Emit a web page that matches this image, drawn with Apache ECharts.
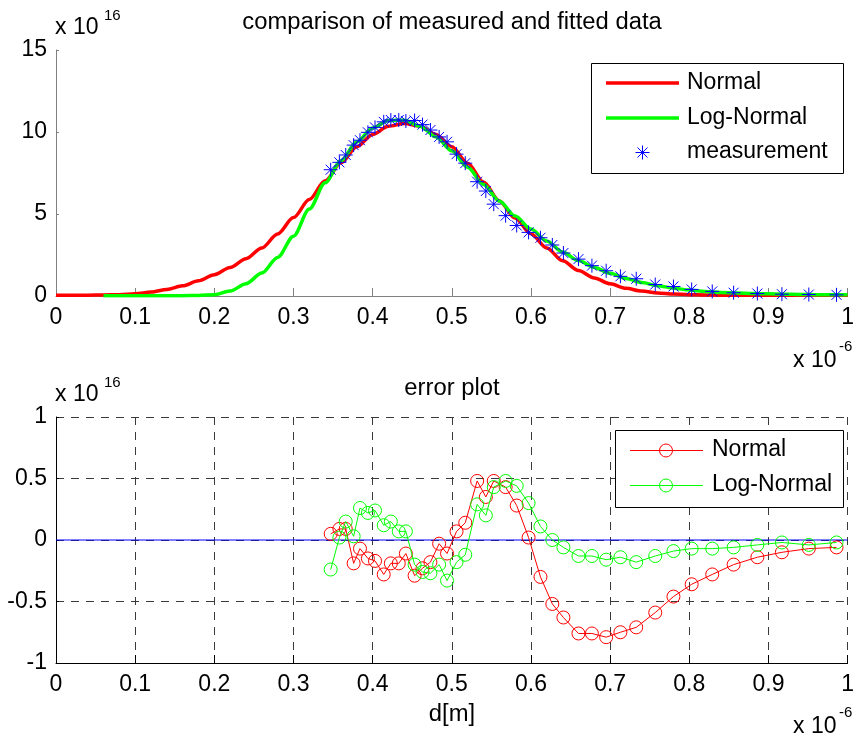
<!DOCTYPE html>
<html><head><meta charset="utf-8">
<script src="https://cdn.jsdelivr.net/npm/echarts@6/dist/echarts.min.js"></script>
<style>html,body{margin:0;padding:0;background:#fff}#c{width:857px;height:738px}</style>
</head><body><div id="c"></div>
<script>
// ---------- data (x in units of 1e-6 m, y in units of 1e16) ----------
const xTickLabels = ['0','0.1','0.2','0.3','0.4','0.5','0.6','0.7','0.8','0.9','1'];
const topYTickLabels = ['0','5','10','15'];
const bottomYTickLabels = ['-1','-0.5','0','0.5','1'];

const fitX = [0,0.02,0.04,0.06,0.08,0.10,0.12,0.14,0.16,0.18,0.20,0.22,0.24,0.26,0.28,0.30,0.32,0.34,0.36,0.38,0.40,
  0.42,0.44,0.46,0.48,0.50,0.52,0.54,0.56,0.58,0.60,0.62,0.64,0.66,0.68,0.70,0.72,0.74,0.76,0.78,0.80,
  0.82,0.84,0.86,0.88,0.90,0.92,0.94,0.96,0.98,1.00];
const normalFit = [0.05,0.05,0.05,0.06,0.08,0.14,0.24,0.40,0.62,0.93,1.30,1.74,2.27,2.93,3.78,4.78,5.88,7.02,8.12,9.10,9.85,
  10.35,10.52,10.35,9.85,9.10,8.10,6.95,5.80,4.75,3.80,2.93,2.15,1.55,1.10,0.74,0.47,0.30,0.19,0.12,0.08,
  0.06,0.05,0.05,0.04,0.04,0.04,0.04,0.04,0.04,0.04];
const logNormalFit = [null,null,null,0.02,0.02,0.02,0.02,0.02,0.02,0.03,0.08,0.30,0.75,1.40,2.35,3.65,5.30,6.90,8.25,9.40,10.25,
  10.70,10.72,10.35,9.70,8.85,7.85,6.80,5.80,4.88,4.08,3.35,2.68,2.16,1.74,1.38,1.07,0.82,0.63,0.48,0.36,
  0.28,0.22,0.18,0.15,0.13,0.11,0.09,0.08,0.07,0.07];

const measX = [0.347,0.358,0.366,0.376,0.384,0.394,0.403,0.414,0.423,0.433,0.442,0.453,0.463,0.473,0.484,0.494,
  0.506,0.517,0.532,0.543,0.553,0.568,0.582,0.597,0.612,0.627,0.641,0.660,0.677,0.695,0.713,0.733,
  0.757,0.780,0.803,0.829,0.856,0.886,0.917,0.951,0.986];
const measY = [7.7,8.15,8.6,9.2,9.5,9.98,10.28,10.62,10.73,10.73,10.67,10.7,10.45,10.12,9.7,9.4,
  8.65,8.1,6.97,6.4,5.6,4.9,4.3,3.88,3.55,3.11,2.62,2.25,1.85,1.54,1.2,1.05,
  0.7,0.58,0.4,0.28,0.2,0.15,0.11,0.09,0.07];
const errNormal = [0.05,0.09,0.09,-0.19,-0.07,-0.15,-0.17,-0.28,-0.19,-0.19,-0.11,-0.29,-0.23,-0.18,-0.03,-0.11,
  0.07,0.14,0.48,0.35,0.48,0.43,0.28,0.02,-0.30,-0.52,-0.63,-0.76,-0.76,-0.79,-0.75,-0.71,
  -0.59,-0.46,-0.36,-0.28,-0.20,-0.14,-0.10,-0.07,-0.06];
const errLogNormal = [-0.24,0.02,0.15,0.03,0.26,0.22,0.24,0.12,0.15,0.07,0.07,-0.20,-0.26,-0.27,-0.20,-0.33,
  -0.18,-0.12,0.29,0.20,0.43,0.48,0.44,0.30,0.11,0.00,-0.06,-0.13,-0.13,-0.16,-0.14,-0.18,
  -0.13,-0.09,-0.07,-0.07,-0.06,-0.04,-0.02,-0.04,-0.02];
const zeroLineX = [0, 1];
const zeroLineY = [0, 0];

// ---------- chart ----------
const F = "'Liberation Sans', Arial, sans-serif";
const FS = 23;
const RED = '#ff0000', GREEN = '#00ff00', BLUE = '#0000ff';
const ASTER = 'path://M7 0L7 14M0 7L14 7M2 2L12 12M2 12L12 2';
const zip = (xs, ys) => xs.map((x, i) => [x, ys[i]]);
const lab = (arr, min, step) => v => arr[Math.round((v - min) / step)];

const chart = echarts.init(document.getElementById('c'), null, {renderer: 'canvas'});

const gridStyle = {show: true, showMinLine: true, showMaxLine: true, lineStyle: {color: '#3a3a3a', width: 1, type: [8, 7]}};

function txt(text, x, y, size, align, sx) {
  return {type: 'text', x: x, y: y, z: 200, scaleX: sx || 1,
    style: {text: text, font: size + 'px ' + F, fill: '#000',
      textAlign: align || 'left', align: align || 'left', textVerticalAlign: 'middle', verticalAlign: 'middle'}};
}
function ln(x1, y1, x2, y2, color, w) {
  return {type: 'line', z: 200, shape: {x1: x1, y1: y1, x2: x2, y2: y2}, style: {stroke: color, lineWidth: w}};
}

const graphic = [
  txt('comparison of measured and fitted data', 452, 23, 23, 'center', 1.035),
  txt('error plot', 452, 389, 23, 'center', 1.035),
  txt('d[m]', 452, 715, 23, 'center', 1.035),
  txt('x 10', 55, 28, FS), txt('16', 104, 16, 15),
  txt('x 10', 55, 395, FS), txt('16', 104, 383, 15),
  txt('x 10', 793, 361, FS), txt('-6', 839, 347, 15),
  txt('x 10', 793, 727, FS), txt('-6', 839, 713, 15),
  // top legend
  {type: 'rect', z: 190, shape: {x: 591.5, y: 63.5, width: 252, height: 110}, style: {fill: '#fff', stroke: '#000', lineWidth: 1}},
  ln(606, 83, 679, 83, RED, 3.5), txt('Normal', 687, 83, FS),
  ln(606, 118, 679, 118, GREEN, 3.5), txt('Log-Normal', 687, 118, FS),
  ln(642.5, 145.5, 642.5, 159.5, BLUE, 1), ln(635.5, 152.5, 649.5, 152.5, BLUE, 1),
  ln(637.5, 147.5, 647.5, 157.5, BLUE, 1), ln(637.5, 157.5, 647.5, 147.5, BLUE, 1),
  txt('measurement', 687, 152, FS),
  // bottom legend
  {type: 'rect', z: 190, shape: {x: 615.5, y: 430.5, width: 228, height: 77}, style: {fill: '#fff', stroke: '#000', lineWidth: 1}},
  ln(630, 450.5, 703, 450.5, RED, 1),
  {type: 'circle', z: 200, shape: {cx: 666, cy: 450.5, r: 6.5}, style: {fill: 'transparent', stroke: RED, lineWidth: 1}},
  txt('Normal', 712, 450, FS),
  ln(630, 485.5, 703, 485.5, GREEN, 1),
  {type: 'circle', z: 200, shape: {cx: 666, cy: 485.5, r: 6.5}, style: {fill: 'transparent', stroke: GREEN, lineWidth: 1}},
  txt('Log-Normal', 712, 485, FS)
];

const option = {
  animation: false,
  backgroundColor: '#fff',
  textStyle: {fontFamily: F},
  grid: [
    {left: 56, top: 50, width: 799, height: 246},
    {left: 56, top: 417, width: 799, height: 246}
  ],
  xAxis: [
    {gridIndex: 0, type: 'value', min: 0, max: 1, interval: 0.1,
      axisLine: {show: true, onZero: false, lineStyle: {color: '#808080', width: 1}},
      axisTick: {show: true, inside: true, length: 8, lineStyle: {color: '#808080'}},
      axisLabel: {color: '#000', fontSize: FS, fontFamily: F, margin: 10, formatter: lab(xTickLabels, 0, 0.1)},
      splitLine: {show: false}},
    {gridIndex: 1, type: 'value', min: 0, max: 1, interval: 0.1,
      axisLine: {show: true, onZero: false, lineStyle: {color: '#000', width: 1}},
      axisTick: {show: true, inside: true, length: 8, lineStyle: {color: '#000'}},
      axisLabel: {color: '#000', fontSize: FS, fontFamily: F, margin: 10, formatter: lab(xTickLabels, 0, 0.1)},
      splitLine: gridStyle}
  ],
  yAxis: [
    {gridIndex: 0, type: 'value', min: 0, max: 15, interval: 5,
      axisLine: {show: true, onZero: false, lineStyle: {color: '#808080', width: 1}},
      axisTick: {show: true, inside: true, length: 3, lineStyle: {color: '#808080'}},
      axisLabel: {color: '#000', fontSize: FS, fontFamily: F, margin: 9, formatter: lab(topYTickLabels, 0, 5)},
      splitLine: {show: false}},
    {gridIndex: 1, type: 'value', min: -1, max: 1, interval: 0.5,
      axisLine: {show: true, onZero: false, lineStyle: {color: '#000', width: 1}},
      axisTick: {show: true, inside: true, length: 3, lineStyle: {color: '#000'}},
      axisLabel: {color: '#000', fontSize: FS, fontFamily: F, margin: 9, formatter: lab(bottomYTickLabels, -1, 0.5)},
      splitLine: gridStyle}
  ],
  graphic: graphic,
  series: [
    {name: 'Normal', type: 'line', xAxisIndex: 0, yAxisIndex: 0, data: zip(fitX, normalFit),
      symbol: 'none', smooth: 0.3, smoothMonotone: 'x', lineStyle: {color: RED, width: 3.5}, z: 2},
    {name: 'Log-Normal', type: 'line', xAxisIndex: 0, yAxisIndex: 0, data: zip(fitX, logNormalFit),
      symbol: 'none', smooth: 0.3, smoothMonotone: 'x', connectNulls: false, lineStyle: {color: GREEN, width: 3.5}, z: 3},
    {name: 'measurement', type: 'scatter', xAxisIndex: 0, yAxisIndex: 0, data: zip(measX, measY),
      symbol: ASTER, symbolSize: 14,
      itemStyle: {color: 'transparent', borderColor: BLUE, borderWidth: 1, opacity: 1}, z: 4},
    {name: 'zero', type: 'line', xAxisIndex: 1, yAxisIndex: 1, data: zip(zeroLineX, zeroLineY),
      symbol: 'none', lineStyle: {color: BLUE, width: 1}, z: 2},
    {name: 'Normal error', type: 'line', xAxisIndex: 1, yAxisIndex: 1, data: zip(measX, errNormal),
      symbol: 'circle', symbolSize: 13, showAllSymbol: true,
      itemStyle: {color: 'transparent', borderColor: RED, borderWidth: 1},
      lineStyle: {color: RED, width: 1}, z: 3},
    {name: 'Log-Normal error', type: 'line', xAxisIndex: 1, yAxisIndex: 1, data: zip(measX, errLogNormal),
      symbol: 'circle', symbolSize: 13, showAllSymbol: true,
      itemStyle: {color: 'transparent', borderColor: GREEN, borderWidth: 1},
      lineStyle: {color: GREEN, width: 1}, z: 4}
  ]
};
chart.setOption(option);
</script>
</body></html>
